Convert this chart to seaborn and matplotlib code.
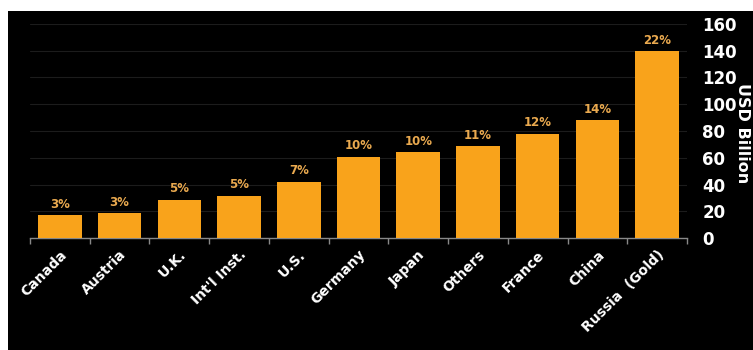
import matplotlib
matplotlib.use("Agg")
import matplotlib.pyplot as plt
import matplotlib.transforms as mtransforms
import seaborn as sns
import pandas as pd
from matplotlib.patches import Rectangle

categories = ["Canada", "Austria", "U.K.", "Int'l Inst.", "U.S.", "Germany",
              "Japan", "Others", "France", "China", "Russia  (Gold)"]
values = [17, 18.5, 28.5, 31.5, 42, 60.5, 64, 68.5, 78, 88, 139.5]
shares = ["3%", "3%", "5%", "5%", "7%", "10%", "10%", "11%", "12%", "14%", "22%"]
yticks = [0, 20, 40, 60, 80, 100, 120, 140, 160]

df = pd.DataFrame({"country": categories, "usd": values, "share": shares})

sns.set_theme(style="dark")
plt.rcParams['font.family'] = ['DejaVu Sans']

fig = plt.figure(figsize=(7.53, 3.5), dpi=100, facecolor="white")
fig.patches.append(Rectangle((8 / 753, 0), 1, 1 - 11 / 350, transform=fig.transFigure,
                             facecolor="black", edgecolor="none", zorder=-10))
W, H = 753, 350
left, right, top, bottom = 30, 687, 24, 238
ax = fig.add_axes([left / W, 1 - bottom / H, (right - left) / W, (bottom - top) / H])
ax.set_facecolor("black")
ax.set_zorder(1)

sns.barplot(data=df, x="country", y="usd", color="#F9A31B", width=0.73,
            saturation=1, ax=ax, zorder=3, edgecolor="none", linewidth=0)

for i, (v, s) in enumerate(zip(values, shares)):
    ax.text(i, v + 3.5, s, ha="center", va="bottom", color="#E9A94F",
            fontsize=8.5, fontweight="bold", zorder=4)

ax.set_ylim(0, 160)
ax.set_xlim(-0.5, len(categories) - 0.5)
ax.set_yticks(yticks)
ax.yaxis.tick_right()
ax.yaxis.set_label_position("right")
ax.tick_params(axis="y", length=0, labelsize=12, labelcolor="white", pad=11)
for lab in ax.get_yticklabels():
    lab.set_fontweight("bold")
ax.set_ylabel("USD Billion", rotation=-90, color="white", fontsize=11.5,
              fontweight="bold", va="center", ha="center")
ax.yaxis.set_label_coords(1.084, 0.49)

ax.set_xticks(range(len(categories)))
ax.set_xticks([i - 0.5 for i in range(len(categories) + 1)], minor=True)
ax.set_xticklabels(categories, rotation=45, ha="right", rotation_mode="anchor",
                   color="white", fontsize=10, fontweight="bold")
offset = mtransforms.ScaledTranslation(-4 / 100, 0, fig.dpi_scale_trans)
for lab in ax.get_xticklabels():
    lab.set_transform(lab.get_transform() + offset)
ax.tick_params(axis="x", which="major", length=0, pad=7)
ax.tick_params(axis="x", which="minor", length=4, color="#888888", width=1, bottom=True)
ax.set_xlabel("")

ax.grid(axis="y", color="#1c1c1c", linewidth=0.8, zorder=0)
ax.grid(axis="x", visible=False)
for side in ["top", "left", "right"]:
    ax.spines[side].set_visible(False)
ax.spines["bottom"].set_color("#888888")
ax.spines["bottom"].set_linewidth(1)

fig.savefig("out.png", dpi=100, facecolor=fig.get_facecolor())
